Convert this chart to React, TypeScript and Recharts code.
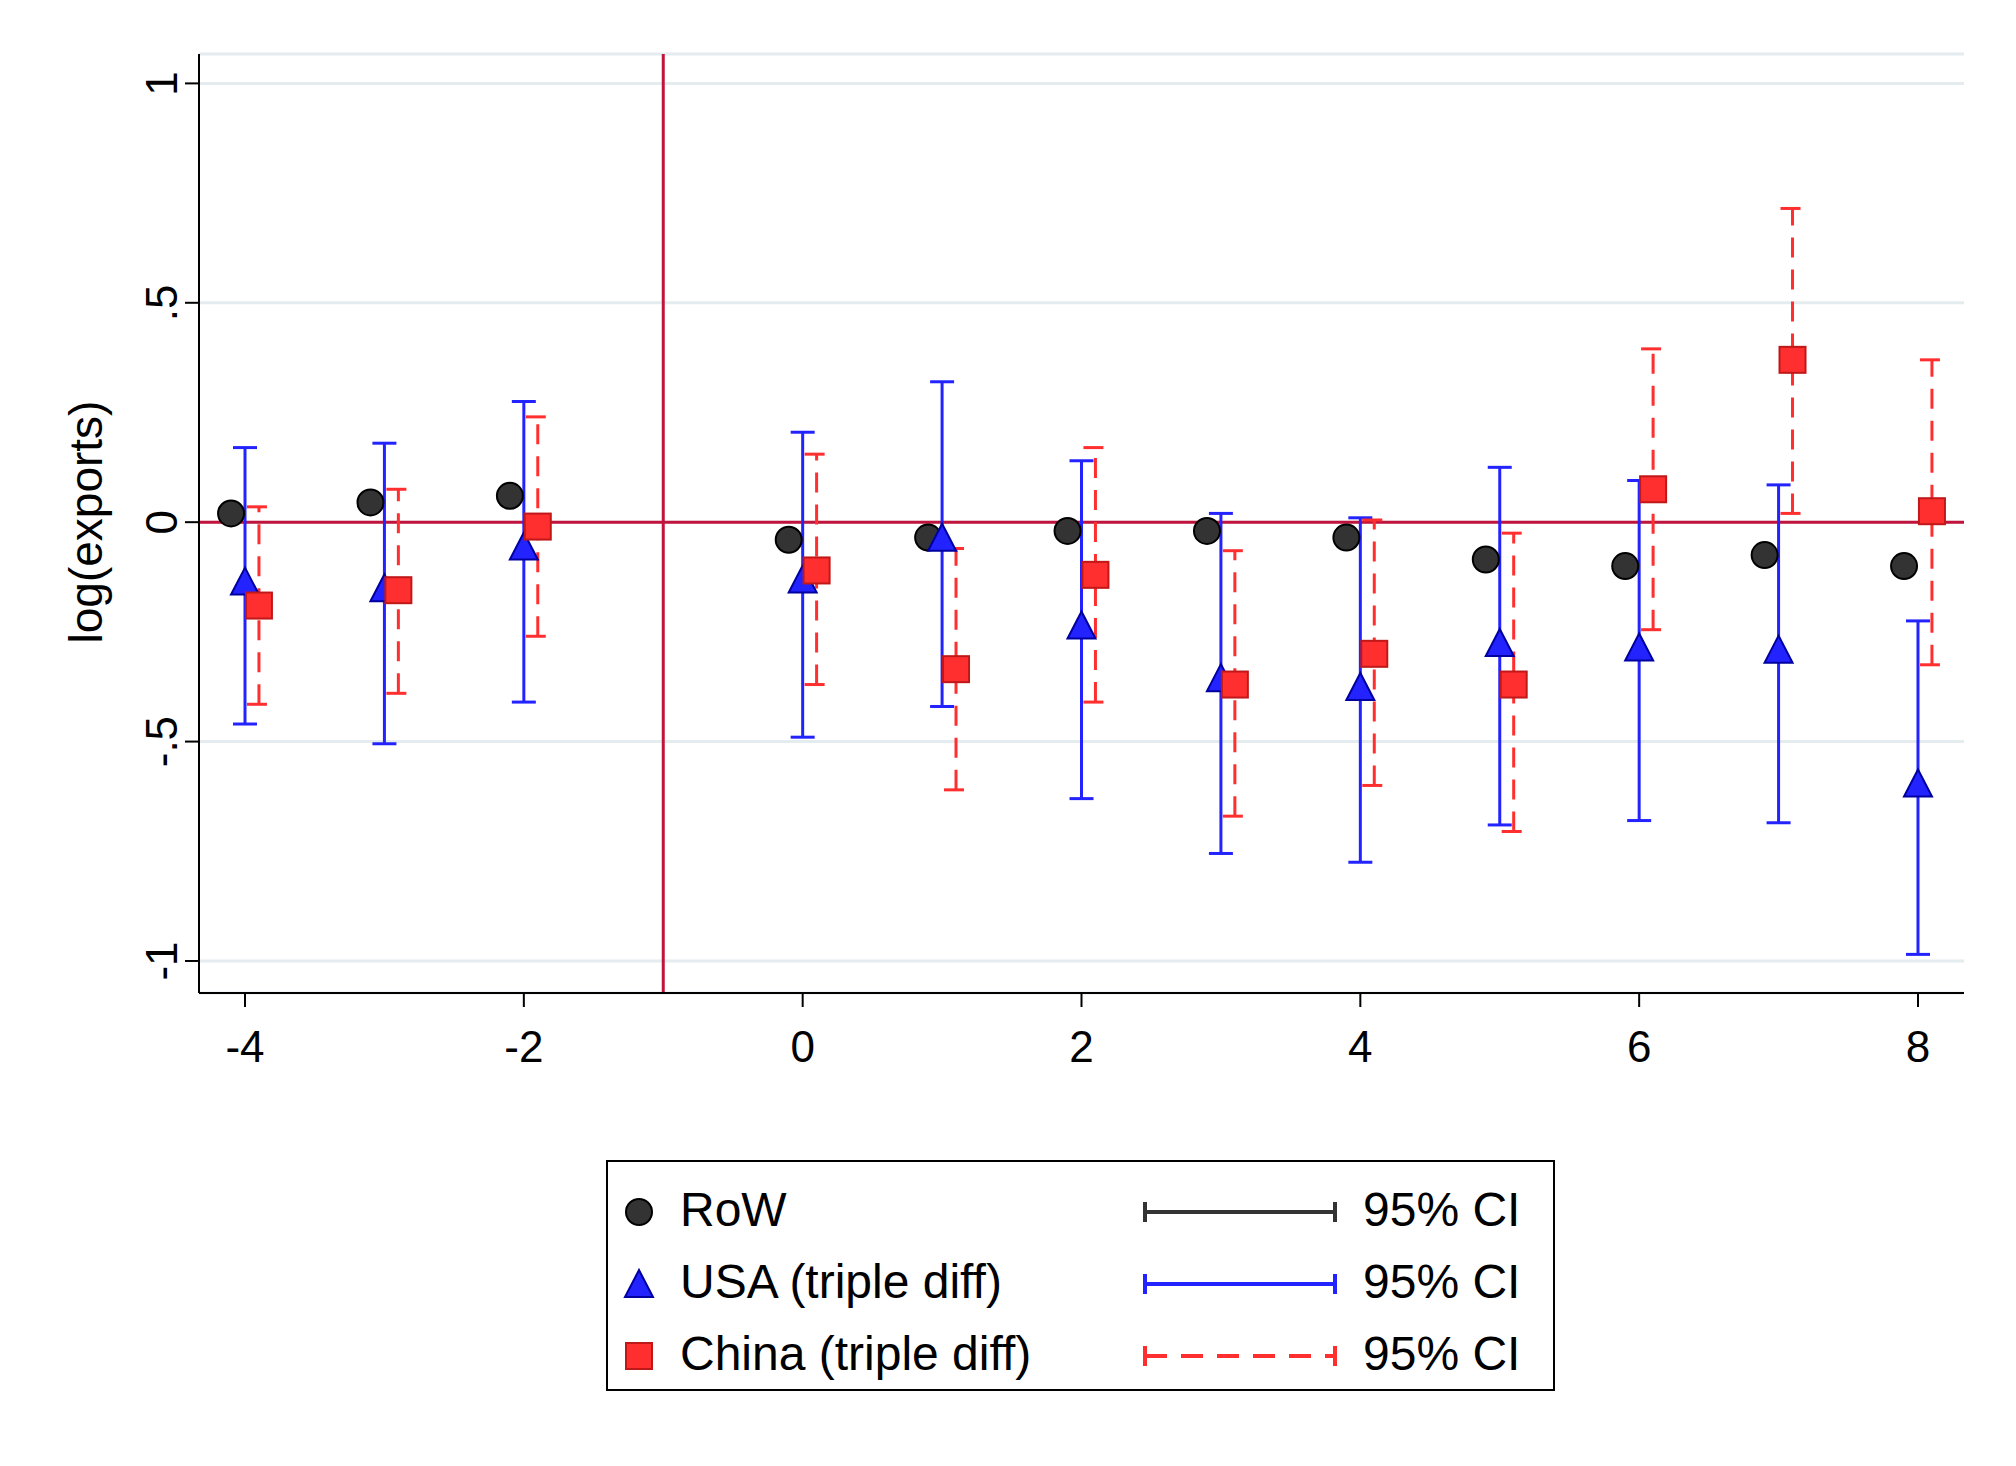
import React from "react";
import {
  ScatterChart,
  Scatter,
  XAxis,
  YAxis,
  CartesianGrid,
  ReferenceLine,
  ErrorBar,
} from "recharts";

const periods = [-4, -3, -2, 0, 1, 2, 3, 4, 5, 6, 7, 8];

const rowEst = [0.02, 0.045, 0.06, -0.04, -0.035, -0.02, -0.02, -0.035, -0.085, -0.1, -0.075, -0.1];
const rowLo = [0.01, 0.035, 0.05, -0.05, -0.045, -0.03, -0.03, -0.045, -0.095, -0.11, -0.085, -0.11];
const rowHi = [0.03, 0.055, 0.07, -0.03, -0.025, -0.01, -0.01, -0.025, -0.075, -0.09, -0.065, -0.09];

const usaEst = [-0.14, -0.155, -0.06, -0.135, -0.04, -0.24, -0.36, -0.38, -0.28, -0.29, -0.295, -0.6];
const usaLo = [-0.46, -0.505, -0.41, -0.49, -0.42, -0.63, -0.755, -0.775, -0.69, -0.68, -0.685, -0.985];
const usaHi = [0.17, 0.18, 0.275, 0.205, 0.32, 0.14, 0.02, 0.01, 0.125, 0.095, 0.085, -0.225];

const chnEst = [-0.19, -0.155, -0.01, -0.11, -0.335, -0.12, -0.37, -0.3, -0.37, 0.075, 0.37, 0.025];
const chnLo = [-0.415, -0.39, -0.26, -0.37, -0.61, -0.41, -0.67, -0.6, -0.705, -0.245, 0.02, -0.325];
const chnHi = [0.035, 0.075, 0.24, 0.155, -0.06, 0.17, -0.065, 0.005, -0.025, 0.395, 0.715, 0.37];

const xTicks = [-4, -2, 0, 2, 4, 6, 8];
const yTicks = [-1, -0.5, 0, 0.5, 1];
const yTickLabels = ["-1", "-.5", "0", ".5", "1"];

const build = (est: number[], lo: number[], hi: number[], shift: number) =>
  periods.map((p, i) => ({ x: p + shift, y: est[i], err: [est[i] - lo[i], hi[i] - est[i]] }));

const rowData = build(rowEst, rowLo, rowHi, -0.1);
const usaData = build(usaEst, usaLo, usaHi, 0);
const chnData = build(chnEst, chnLo, chnHi, 0.1);

const FONT = "'Liberation Sans', Arial, sans-serif";
const BLUE = "#2323ff";
const RED = "#ff2f2f";
const AXISRED = "#c0143c";

const Circle = (p: any) => (
  <circle cx={p.cx} cy={p.cy} r={13} fill="#333" stroke="#000" strokeWidth={2} />
);
const Tri = (p: any) => (
  <polygon
    points={`${p.cx},${p.cy - 16} ${p.cx - 14},${p.cy + 11} ${p.cx + 14},${p.cy + 11}`}
    fill={BLUE}
    stroke="#0000a0"
    strokeWidth={2}
  />
);
const Sq = (p: any) => (
  <rect x={p.cx - 13} y={p.cy - 13} width={26} height={26} fill={RED} stroke="#c01818" strokeWidth={2} />
);

const YTick = (p: any) => {
  const i = yTicks.indexOf(p.payload.value);
  return (
    <text
      x={p.x - 6}
      y={p.y}
      transform={`rotate(-90 ${p.x - 6} ${p.y})`}
      textAnchor="middle"
      fontSize={44}
      fontFamily={FONT}
      fill="#000"
    >
      {yTickLabels[i]}
    </text>
  );
};

const legendRows = [
  { label: "RoW", color: "#333", dash: undefined as string | undefined, mk: "c" },
  { label: "USA (triple diff)", color: BLUE, dash: undefined, mk: "t" },
  { label: "China (triple diff)", color: RED, dash: "22 14", mk: "s" },
];

export default function App() {
  return (
    <div style={{ position: "absolute", left: 0, top: 0, width: 2016, height: 1466, background: "#fff", fontFamily: FONT }}>
      <ScatterChart width={2016} height={1466} margin={{ top: 54, right: 52, bottom: 393, left: 0 }}>
        <CartesianGrid horizontal vertical={false} stroke="#e4ecef" strokeWidth={3} />
        <XAxis
          type="number"
          dataKey="x"
          domain={[-4.33, 8.33]}
          ticks={xTicks}
          height={80}
          stroke="#000"
          strokeWidth={2}
          tickSize={14}
          tick={{ fontSize: 44, fill: "#000", fontFamily: FONT, dy: 22 }}
        />
        <YAxis
          type="number"
          dataKey="y"
          domain={[-1.073, 1.067]}
          ticks={yTicks}
          width={199}
          stroke="#000"
          strokeWidth={2}
          tickSize={14}
          tick={<YTick />}
        />
        <ReferenceLine x={-1} stroke={AXISRED} strokeWidth={3} />
        <ReferenceLine y={0} stroke={AXISRED} strokeWidth={3} />
        <Scatter data={rowData} shape={Circle} isAnimationActive={false}>
          <ErrorBar dataKey="err" direction="y" width={10} stroke="#333" strokeWidth={3} />
        </Scatter>
        <Scatter data={usaData} shape={Tri} isAnimationActive={false}>
          <ErrorBar dataKey="err" direction="y" width={12} stroke={BLUE} strokeWidth={3} />
        </Scatter>
        <Scatter data={chnData} shape={Sq} isAnimationActive={false}>
          <ErrorBar dataKey="err" direction="y" width={12} stroke={RED} strokeWidth={3} strokeDasharray="20 12" />
        </Scatter>
      </ScatterChart>
      <svg style={{ position: "absolute", left: 0, top: 0 }} width={200} height={1000}>
        <text
          x={102}
          y={522}
          transform="rotate(-90 102 522)"
          textAnchor="middle"
          fontSize={46}
          fontFamily={FONT}
          fill="#000"
        >
          log(exports)
        </text>
      </svg>
      <div
        style={{
          position: "absolute",
          left: 606,
          top: 1160,
          width: 949,
          height: 231,
          border: "2px solid #000",
          boxSizing: "border-box",
        }}
      >
        {legendRows.map((r, i) => (
          <div key={r.label} style={{ position: "absolute", left: 0, top: 18 + i * 72, height: 60, width: "100%" }}>
            <svg style={{ position: "absolute", left: 14, top: 15 }} width={34} height={34}>
              {r.mk === "c" && <circle cx={17} cy={17} r={13} fill="#333" stroke="#000" strokeWidth={2} />}
              {r.mk === "t" && <polygon points="17,3 3,30 31,30" fill={BLUE} stroke="#0000a0" strokeWidth={2} />}
              {r.mk === "s" && <rect x={4} y={4} width={26} height={26} fill={RED} stroke="#c01818" strokeWidth={2} />}
            </svg>
            <div style={{ position: "absolute", left: 72, top: 4, fontSize: 48, lineHeight: "52px" }}>{r.label}</div>
            <svg style={{ position: "absolute", left: 533, top: 14 }} width={200} height={36}>
              <line x1={4} y1={18} x2={194} y2={18} stroke={r.color} strokeWidth={4} strokeDasharray={r.dash} />
              <line x1={4} y1={8} x2={4} y2={28} stroke={r.color} strokeWidth={4} />
              <line x1={194} y1={8} x2={194} y2={28} stroke={r.color} strokeWidth={4} />
            </svg>
            <div style={{ position: "absolute", left: 755, top: 4, fontSize: 48, lineHeight: "52px" }}>95% CI</div>
          </div>
        ))}
      </div>
    </div>
  );
}
